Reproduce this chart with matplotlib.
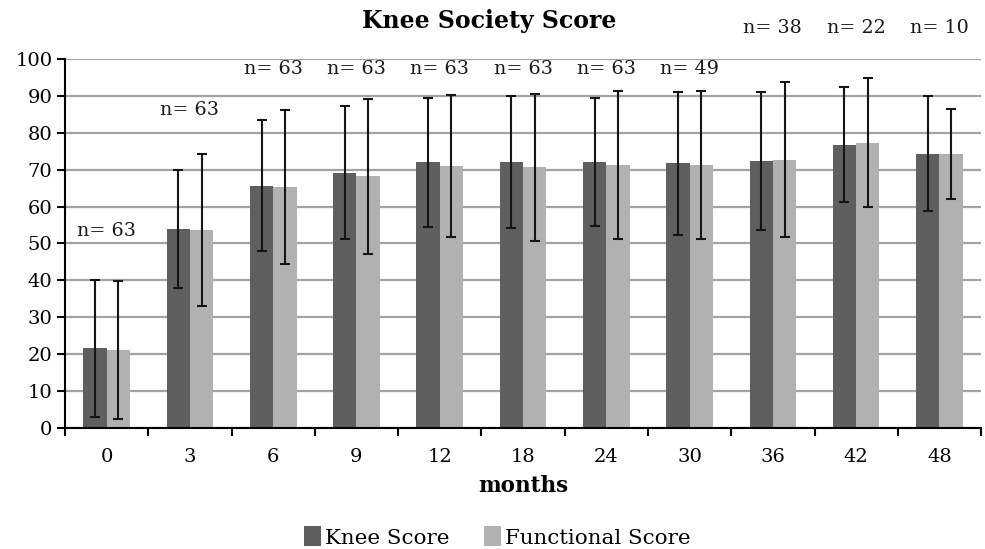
import numpy as np
import matplotlib
matplotlib.use("Agg")
import matplotlib.pyplot as plt

# Knee Society Score follow-up data (mean +/- SD)
months = ["0", "3", "6", "9", "12", "18", "24", "30", "36", "42", "48"]
knee_mean = [21.5, 54.0, 65.6, 69.2, 72.0, 72.1, 72.1, 71.7, 72.4, 76.8, 74.4]
knee_sd = [18.6, 16.0, 17.8, 18.0, 17.5, 17.9, 17.3, 19.3, 18.7, 15.6, 15.5]
func_mean = [21.0, 53.7, 65.3, 68.2, 71.1, 70.7, 71.3, 71.3, 72.7, 77.4, 74.3]
func_sd = [18.7, 20.7, 21.0, 21.0, 19.3, 20.0, 20.0, 20.0, 21.0, 17.6, 12.3]
n_patients = [63, 63, 63, 63, 63, 63, 63, 49, 38, 22, 10]
n_label_y = [53.5, 86.3, 97.4, 97.4, 97.4, 97.4, 97.4, 97.4, 108.5, 108.5, 108.5]

DARK = "#5f5f5f"
LIGHT = "#b1b1b1"
GRID = "#a3a3a3"
BAR_W = 0.28

plt.rcParams["font.family"] = ["DejaVu Serif"]

fig = plt.figure(figsize=(9.85, 5.49), dpi=100)
ax = fig.add_axes([0.066, 0.2213, 0.93, 0.6707])

x = np.arange(len(months))
err_kw = dict(ecolor="#151515", elinewidth=1.5, capsize=3.8, capthick=1.5)
ax.bar(x - BAR_W / 2, knee_mean, BAR_W, yerr=knee_sd, color=DARK,
       label="Knee Score", error_kw=err_kw, zorder=2)
ax.bar(x + BAR_W / 2, func_mean, BAR_W, yerr=func_sd, color=LIGHT,
       label="Functional Score", error_kw=err_kw, zorder=2)

for xi, n, ly in zip(x, n_patients, n_label_y):
    ax.text(xi, ly, "n= %d" % n, ha="center", va="center", fontsize=13.8,
            color="#1a1a1a", clip_on=False)

ax.set_xlim(-0.5, len(months) - 0.5)
ax.set_ylim(0, 100)
ax.set_yticks(np.arange(0, 101, 10))
ax.set_xticks(x)
ax.set_xticklabels(months)
ax.set_xticks(np.arange(-0.5, len(months)), minor=True)
ax.tick_params(axis="x", which="major", length=0, labelsize=14, pad=15)
ax.tick_params(axis="x", which="minor", length=6, width=1.5, direction="out")
ax.tick_params(axis="y", length=6, width=1.5, labelsize=14, pad=3)

ax.yaxis.grid(True, color=GRID, linewidth=1.6, zorder=0)
ax.set_axisbelow(True)
for side in ("top", "right"):
    ax.spines[side].set_visible(False)
for side in ("left", "bottom"):
    ax.spines[side].set_linewidth(1.5)

fig.text(0.497, 0.961, "Knee Society Score", ha="center", va="center",
         fontsize=17, fontweight="bold")
ax.set_xlabel("months", fontsize=15.5, fontweight="bold", labelpad=6)

fig.legend(loc="center", bbox_to_anchor=(0.505, 0.022), ncol=2,
           frameon=False, fontsize=15.4, handlelength=0.8, handleheight=1.05,
           handletextpad=0.2, columnspacing=1.6)

fig.savefig("out.png", dpi=100)
